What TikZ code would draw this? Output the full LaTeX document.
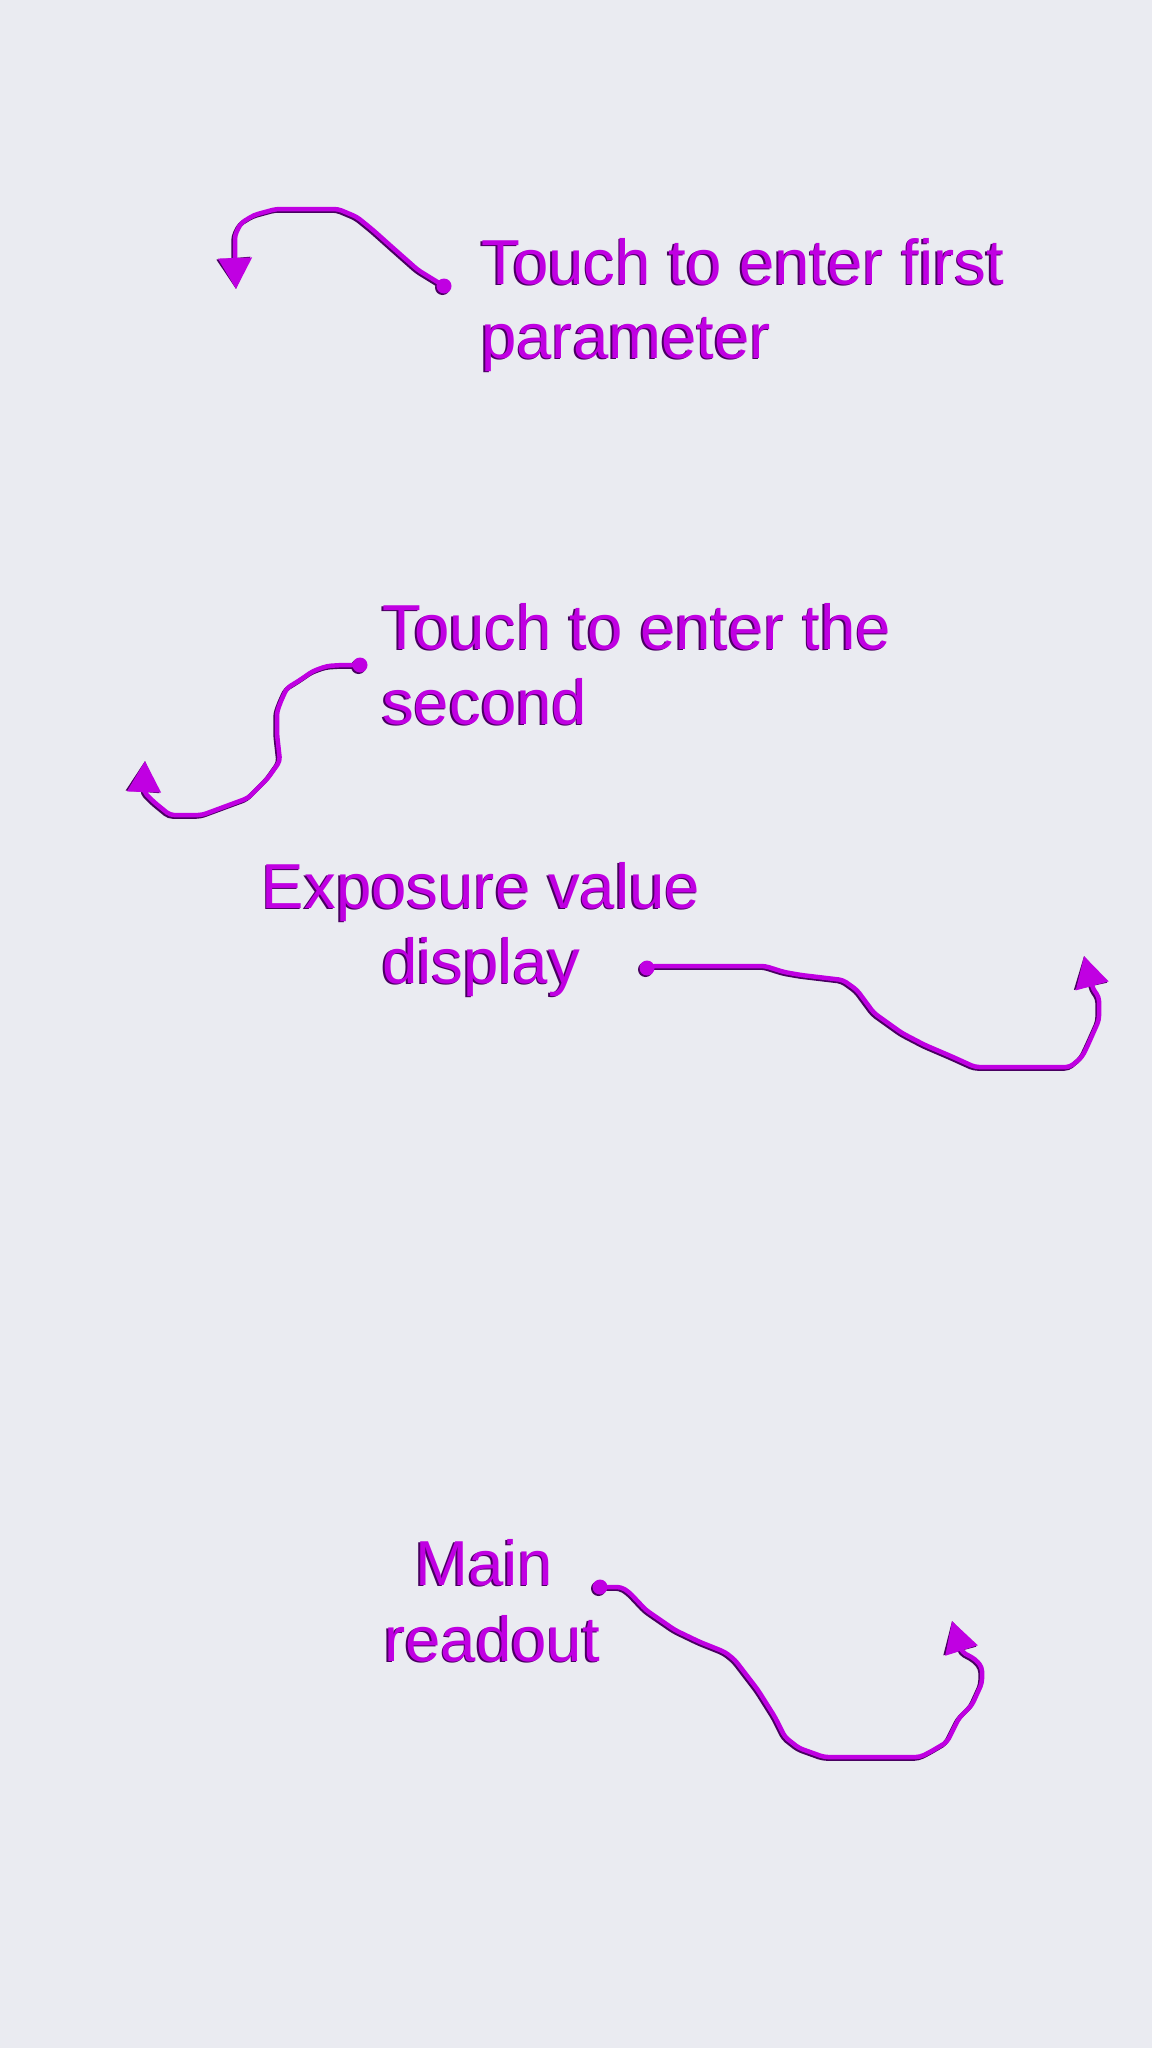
\documentclass[tikz,border=0pt]{standalone}
\usepackage{fontspec}
\setmainfont{Liberation Sans}
\usetikzlibrary{arrows.meta}
\definecolor{bg}{RGB}{234,235,241}
\definecolor{embmain}{RGB}{192,0,226}
\definecolor{embdark}{RGB}{72,0,96}
\definecolor{emblight}{RGB}{236,150,255}
\newcommand\embtext[1]{\leavevmode\rlap{\kern-1.5bp\raisebox{-1.5bp}{\color{embdark}#1}}{\color{embmain}#1}}
\newcommand\embpath[1]{\draw[connsh,shift={(-1.5,1.5)}] #1; \draw[conn] #1;}
\begin{document}
\begin{tikzpicture}[x=1bp,y=-1bp,
  lbl/.style={inner sep=0pt,font=\fontsize{63.8}{75}\selectfont},
  conn/.style={line width=4.5bp,draw=embmain,line join=round,line cap=round,rounded corners=4bp,
    -{Triangle[length=31bp,width=33bp]}},
  connsh/.style={conn,draw=embdark},
  dotn/.style={circle,fill=embmain,minimum size=15bp,inner sep=0pt},
  dotsh/.style={circle,fill=embdark,minimum size=15bp,inner sep=0pt}]
\fill[bg] (0,0) rectangle (1152,2048);
\useasboundingbox (0,0) rectangle (1152,2048);

% labels
\node[lbl,anchor=base west] (t1a) at (481,284) {\embtext{Touch to enter first}};
\node[lbl,anchor=base west] (t1b) at (481,358) {\embtext{parameter}};
\node[lbl,anchor=base west] (t2a) at (382,649) {\embtext{Touch to enter the}};
\node[lbl,anchor=base west] (t2b) at (382,724) {\embtext{second}};
\node[lbl,anchor=base] (t3a) at (481,908) {\embtext{Exposure value}};
\node[lbl,anchor=base] (t3b) at (481,983) {\embtext{display}};
\node[lbl,anchor=base] (t4a) at (484,1585) {\embtext{Main}};
\node[lbl,anchor=base] (t4b) at (492,1661) {\embtext{readout}};

% end points
\coordinate (e1) at (236,289);
\coordinate (e2) at (145,761);
\coordinate (e3) at (1084,956);
\coordinate (e4) at (952,1621);

% dots (shadow)
\node[dotsh] at (442.5,287.5) {};
\node[dotsh] at (358.5,666.5) {};
\node[dotsh] at (645.5,969.5) {};
\node[dotsh] at (598.5,1588.5) {};

% connectors
\embpath{(444,286) -- (418,270) -- (392,247) -- (373,230) -- (357,217) -- (338,209) -- (276,209) -- (254,215) -- (241,223) -- (235,235) -- (235,258) -- (e1)}
\embpath{(360,665) -- (342,665) -- (327,666) -- (313,671) -- (300,680) -- (287,688) -- (281,701) -- (277,712) -- (277,734) -- (280,761) -- (268,778) -- (248,798) -- (229,805) -- (202,815) -- (170,815) -- (154,802) -- (144,792) -- (e2)}
\embpath{(647,968) -- (652,966) -- (765,966) -- (784,972) -- (801,975) -- (843,980) -- (857,990) -- (874,1013) -- (902,1033) -- (925,1045) -- (953,1057) -- (975,1067) -- (1070,1067) -- (1082,1057) -- (1087,1047) -- (1099,1020) -- (1099,997) -- (1093,989) -- (e3)}
\embpath{(600,1587) -- (621,1587) -- (629,1592) -- (646,1610) -- (675,1630) -- (700,1642) -- (725,1652) -- (735,1660) -- (758,1690) -- (775,1717) -- (785,1737) -- (799,1748) -- (824,1757) -- (920,1757) -- (930,1752) -- (947,1742) -- (959,1718) -- (972,1705) -- (982,1683) -- (982,1667) -- (975,1659) -- (962,1652) -- (e4)}

% dots
\node[dotn] (d1) at (444,286) {};
\node[dotn] (d2) at (360,665) {};
\node[dotn] (d3) at (647,968) {};
\node[dotn] (d4) at (600,1587) {};
\end{tikzpicture}
\end{document}
